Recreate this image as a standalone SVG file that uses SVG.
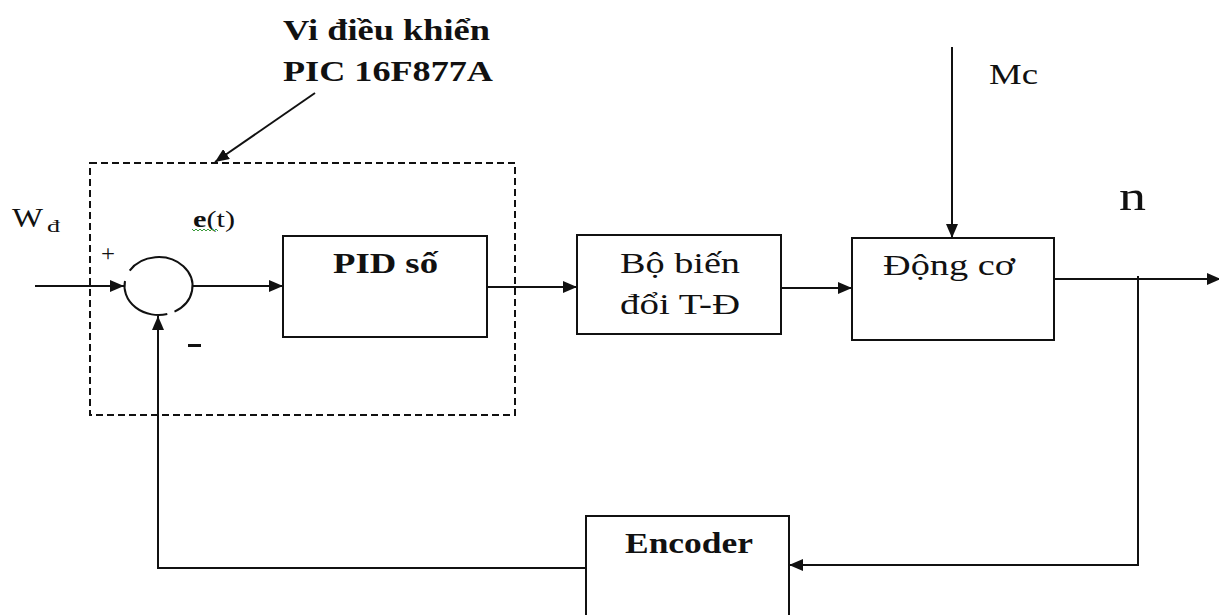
<svg xmlns="http://www.w3.org/2000/svg" width="1219" height="615" viewBox="0 0 1219 615">
<defs>
<marker id="arr" markerUnits="userSpaceOnUse" markerWidth="14" markerHeight="12" refX="14" refY="6" orient="auto">
<path d="M0,0 L14,6 L0,12 z" fill="#111"/>
</marker>
<style>
.bx{fill:#fff;stroke:#111;stroke-width:2}
.ln{fill:none;stroke:#111;stroke-width:2}
text{font-family:'Liberation Serif','Times New Roman',serif;fill:#111}
.b{font-weight:bold}
</style>
</defs>
<rect width="1219" height="615" fill="#fff"/>

<g id="controller-boundary">
<rect x="90" y="163" width="425" height="252" fill="none" stroke="#111" stroke-width="2" stroke-dasharray="7 4"/>
<text class="b" x="283" y="40" font-size="29" textLength="207" lengthAdjust="spacingAndGlyphs">Vi điều khiển</text>
<text class="b" x="283" y="81" font-size="29" textLength="210" lengthAdjust="spacingAndGlyphs">PIC 16F877A</text>
</g>

<g id="connectors">
<line class="ln" x1="35" y1="286" x2="124" y2="286" marker-end="url(#arr)"/>
<line class="ln" x1="193" y1="286" x2="283" y2="286" marker-end="url(#arr)"/>
<line class="ln" x1="487" y1="287" x2="577" y2="287" marker-end="url(#arr)"/>
<line class="ln" x1="781" y1="288" x2="852" y2="288" marker-end="url(#arr)"/>
<line class="ln" x1="952" y1="47" x2="952" y2="238" marker-end="url(#arr)"/>
<line class="ln" x1="1054" y1="279" x2="1221" y2="279" marker-end="url(#arr)"/>
<path class="ln" d="M1138,276 V565 H789" marker-end="url(#arr)"/>
<path class="ln" d="M586,568 H158 V316" marker-end="url(#arr)"/>
<line class="ln" x1="315" y1="93" x2="215" y2="162" marker-end="url(#arr)"/>
</g>

<g id="sum">
<path class="ln" d="M129.7,270.6 A34 29 0 1 1 174.5,311.6 M167.3,314 A34 29 0 0 1 125,281"/>
<text x="101" y="261" font-size="24" textLength="14" lengthAdjust="spacingAndGlyphs">+</text>
<rect x="188" y="344" width="13" height="3" fill="#111"/>
</g>

<g id="input-label">
<text x="12" y="227" font-size="27" textLength="31" lengthAdjust="spacingAndGlyphs">W</text>
<text x="47" y="232" font-size="17" textLength="13" lengthAdjust="spacingAndGlyphs">đ</text>
</g>

<g id="error-label">
<text x="193" y="227" font-size="24" textLength="42" lengthAdjust="spacingAndGlyphs"><tspan font-weight="bold">e</tspan>(t)</text>
<polyline points="192,229 194,231 196,229 198,231 200,229 202,231 204,229 206,231 208,229 210,231 212,229 214,231 216,229 218,231" fill="none" stroke="#3a9a3a" stroke-width="1"/>
</g>

<g id="pid">
<rect class="bx" x="283" y="236" width="204" height="101"/>
<text class="b" x="333" y="273" font-size="29" textLength="105" lengthAdjust="spacingAndGlyphs">PID số</text>
</g>

<g id="converter">
<rect class="bx" x="577" y="235" width="204" height="99"/>
<text x="620" y="273" font-size="29" textLength="120" lengthAdjust="spacingAndGlyphs">Bộ biến</text>
<text x="620" y="314" font-size="29" textLength="120" lengthAdjust="spacingAndGlyphs">đổi T-Đ</text>
</g>

<g id="motor">
<rect class="bx" x="852" y="238" width="202" height="102"/>
<text x="883" y="275" font-size="29" textLength="132" lengthAdjust="spacingAndGlyphs">Động cơ</text>
</g>

<g id="load-label">
<text x="989" y="84" font-size="29" textLength="49" lengthAdjust="spacingAndGlyphs">Mc</text>
</g>

<g id="output-label">
<text x="1119" y="210" font-size="43" textLength="27" lengthAdjust="spacingAndGlyphs">n</text>
</g>

<g id="encoder">
<rect class="bx" x="586" y="516" width="203" height="110"/>
<text class="b" x="625" y="553" font-size="30" textLength="128" lengthAdjust="spacingAndGlyphs">Encoder</text>
</g>
</svg>
